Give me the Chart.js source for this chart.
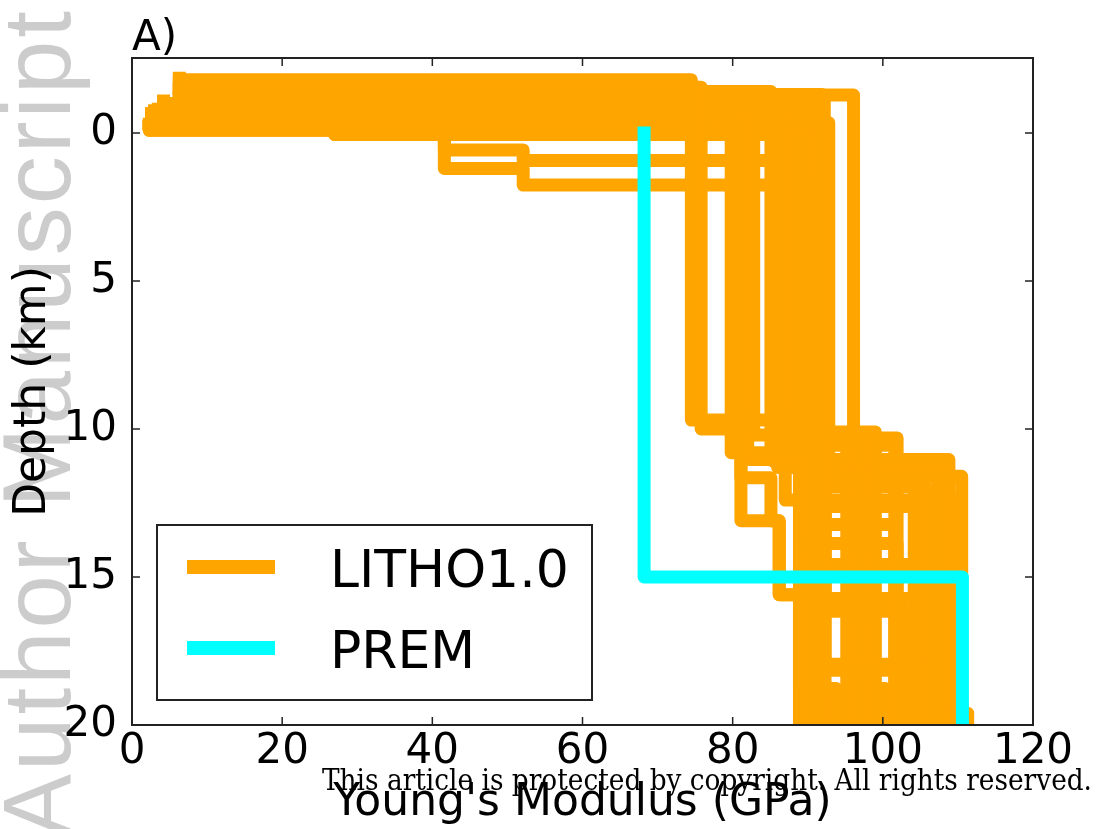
<!DOCTYPE html>
<html>
<head>
<meta charset="utf-8">
<title>Young's Modulus vs Depth</title>
<script src="https://cdn.jsdelivr.net/npm/chart.js@4.4.1/dist/chart.umd.min.js"></script>
<style>
  html, body { margin: 0; padding: 0; background: #ffffff; }
  #wrap { position: relative; width: 1100px; height: 829px; overflow: hidden; }
  canvas { display: block; }
</style>
</head>
<body>
<div id="wrap"><canvas id="chart" width="1100" height="829"></canvas></div>
<script>
// ---------------- data ----------------
const xTickValues = [0, 20, 40, 60, 80, 100, 120];
const yTickValues = [0, 5, 10, 15, 20];
const seriesNames = ['LITHO1.0', 'PREM'];
const seriesColors = ['#ffa500', '#00ffff'];

// PREM crust: layer moduli (GPa) and layer boundaries (km)
const premModulus = [68.2, 110.6];
const premBounds = [0, 15, 20];

// LITHO1.0 profiles: surface depth (km), layer moduli (GPa), layer base depths (km)
const lithoTops = [-1.85, -1.75, -0.66, -0.22, -1.08, -1.6, -0.22, -0.22, -0.22, -1.5,
                   -0.5, -1.45, -1.0, -0.6, -0.85, -0.22, -1.3, -0.4, -0.95, -0.62,
                   -0.45, -0.9, -1.2, -0.8, -0.75, -1.2, -0.3];
const lithoModuli = [
  [6.3, 74.5, 90.6, 104.2],
  [6.3, 75.8, 81.1, 86.2, 88.9],
  [2.6, 79.8, 92.3, 101.6],
  [2.3, 81.1, 85.1, 86.2, 88.9],
  [4.2, 82.8, 88.9, 101.9],
  [6.3, 85.1, 90.6, 107.3],
  [2.3, 27.0, 86.7, 92.3, 103.0],
  [2.3, 27.0, 41.6, 52.1, 88.3, 90.6, 106.6],
  [2.3, 27.0, 41.6, 52.1, 90.3, 92.3, 105.0],
  [6.3, 91.9, 99.0],
  [2.6, 92.8, 110.5],
  [6.3, 96.1, 101.9, 111.3],
  [4.2, 89.5, 95.2],
  [2.6, 87.5, 96.6],
  [4.2, 85.5, 104.2],
  [2.3, 86.0, 107.3],
  [6.3, 82.0, 108.8],
  [2.6, 87.0, 110.0],
  [4.2, 90.8, 105.7],
  [2.6, 85.8, 92.0, 105.7],
  [2.6, 88.0, 88.9, 93.8],
  [4.2, 91.0, 101.6],
  [6.3, 92.2, 97.9],
  [3.5, 89.2, 97.5, 100.3],
  [3.0, 90.0, 91.3],
  [6.3, 91.5, 92.3],
  [2.3, 89.7]
];
const lithoBases = [
  [-1.8, 9.7, 12.62, 20],
  [-1.55, 10.0, 13.1, 15.6, 20],
  [-0.55, 10.8, 13.23, 20],
  [-0.15, 11.65, 13.1, 15.6, 20],
  [-1.0, 10.2, 13.87, 20],
  [-1.4, 10.6, 15.73, 20],
  [-0.1, 0.05, 10.5, 16.16, 20],
  [-0.1, 0.05, 0.57, 0.93, 10.3, 17.95, 20],
  [-0.1, 0.05, 1.2, 1.76, 10.4, 18.15, 20],
  [-1.3, 10.1, 20],
  [-0.35, 11.6, 20],
  [-1.28, 10.3, 19.6, 20],
  [-0.85, 10.5, 20],
  [-0.45, 10.25, 20],
  [-0.7, 11.1, 20],
  [-0.1, 11.3, 20],
  [-1.15, 11.03, 20],
  [-0.25, 12.4, 20],
  [-0.78, 11.95, 20],
  [-0.5, 10.5, 14.58, 20],
  [-0.3, 10.1, 18.77, 20],
  [-0.65, 10.55, 20],
  [-1.1, 10.15, 20],
  [-0.62, 10.45, 18.77, 20],
  [-0.6, 10.35, 20],
  [-1.05, 10.45, 20],
  [-0.12, 20]
];

// ---------------- build step profiles ----------------
function stepPoints(top, moduli, bases) {
  const pts = [];
  let d = top;
  moduli.forEach((e, i) => {
    pts.push({ x: e, y: d });
    pts.push({ x: e, y: bases[i] });
    d = bases[i];
  });
  return pts;
}

const lineStyle = {
  showLine: true, pointRadius: 0, pointHoverRadius: 0, borderWidth: 13,
  borderCapStyle: 'square', borderJoinStyle: 'round', fill: false, tension: 0, clip: 0
};

const datasets = [];
datasets.push(Object.assign({
  label: seriesNames[1],
  data: stepPoints(premBounds[0], premModulus, premBounds.slice(1)),
  borderColor: seriesColors[1], backgroundColor: seriesColors[1], order: 0
}, lineStyle));
lithoTops.forEach((t, i) => {
  datasets.push(Object.assign({
    label: seriesNames[0],
    data: stepPoints(t, lithoModuli[i], lithoBases[i]),
    borderColor: seriesColors[0], backgroundColor: seriesColors[0], order: 1
  }, lineStyle));
});

// ---------------- plugins ----------------
const watermark = {
  id: 'watermark',
  beforeDraw(chart) {
    const ctx = chart.ctx;
    ctx.save();
    ctx.fillStyle = '#ffffff';
    ctx.fillRect(0, 0, chart.width, chart.height);
    ctx.translate(70, 838);
    ctx.rotate(-Math.PI / 2);
    ctx.font = '96px "Liberation Sans", Arial, sans-serif';
    if ('letterSpacing' in ctx) ctx.letterSpacing = '3px';
    ctx.fillStyle = '#cccccc';
    ctx.textBaseline = 'alphabetic';
    ctx.textAlign = 'left';
    ctx.fillText('Author Manuscript', 0, 0);
    ctx.restore();
  }
};

const frameAndTicks = {
  id: 'frameAndTicks',
  afterDatasetsDraw(chart) {
    const ctx = chart.ctx;
    const a = chart.chartArea;
    const xs = chart.scales.x, ys = chart.scales.y;
    ctx.save();
    ctx.strokeStyle = '#222222';
    ctx.lineWidth = 1.5;
    ctx.beginPath();
    xTickValues.forEach(v => {
      const px = xs.getPixelForValue(v);
      ctx.moveTo(px, a.bottom); ctx.lineTo(px, a.bottom - 8);
      ctx.moveTo(px, a.top); ctx.lineTo(px, a.top + 8);
    });
    yTickValues.forEach(v => {
      const py = ys.getPixelForValue(v);
      ctx.moveTo(a.left, py); ctx.lineTo(a.left + 8, py);
      ctx.moveTo(a.right, py); ctx.lineTo(a.right - 8, py);
    });
    ctx.stroke();
    ctx.lineWidth = 2;
    ctx.strokeRect(a.left, a.top, a.right - a.left, a.bottom - a.top);
    ctx.restore();
  },
  afterDraw(chart) {
    const ctx = chart.ctx;
    ctx.save();
    // legend
    ctx.fillStyle = '#ffffff';
    ctx.fillRect(157, 525, 435, 175);
    ctx.strokeStyle = '#222222';
    ctx.lineWidth = 2;
    ctx.strokeRect(157, 525, 435, 175);
    const rows = [567, 648];
    ctx.lineCap = 'butt';
    ctx.lineWidth = 14;
    ctx.font = '52px "DejaVu Sans"';
    ctx.textBaseline = 'alphabetic';
    ctx.textAlign = 'left';
    seriesNames.forEach((name, i) => {
      ctx.strokeStyle = seriesColors[i];
      ctx.beginPath();
      ctx.moveTo(187, rows[i]); ctx.lineTo(275, rows[i]);
      ctx.stroke();
      ctx.fillStyle = '#000000';
      ctx.fillText(name, 330, rows[i] + 20);
    });
    // panel label
    ctx.font = '42px "DejaVu Sans"';
    ctx.fillStyle = '#000000';
    ctx.fillText('A)', 132, 50);
    // copyright notice
    const note = 'This article is protected by copyright. All rights reserved.';
    ctx.font = '30px "DejaVu Serif", "Liberation Serif", serif';
    const w = ctx.measureText(note).width;
    ctx.translate(322, 790);
    ctx.scale(770 / w, 1);
    ctx.fillText(note, 0, 0);
    ctx.restore();
  }
};

// ---------------- chart ----------------
new Chart(document.getElementById('chart').getContext('2d'), {
  type: 'scatter',
  data: { datasets },
  options: {
    responsive: false,
    animation: false,
    devicePixelRatio: 1,
    layout: { padding: { top: 58, right: 67, left: 0, bottom: 0 } },
    plugins: { legend: { display: false }, tooltip: { enabled: false } },
    events: [],
    scales: {
      x: {
        type: 'linear', position: 'bottom', min: 0, max: 120,
        afterBuildTicks: s => { s.ticks = xTickValues.map(v => ({ value: v })); },
        afterFit: s => { s.height = 104; },
        grid: { display: false, drawTicks: false },
        border: { display: false },
        ticks: {
          font: { family: 'DejaVu Sans', size: 42, lineHeight: 1.2 }, color: '#000000',
          padding: 2, maxRotation: 0, autoSkip: false, callback: v => String(v)
        },
        title: {
          display: true, text: "Young's Modulus (GPa)", color: '#000000',
          font: { family: 'DejaVu Sans', size: 44, lineHeight: 1 },
          padding: { top: 0, bottom: 3 }
        }
      },
      y: {
        type: 'linear', position: 'left', reverse: true, min: -2.534, max: 20,
        afterBuildTicks: s => { s.ticks = yTickValues.map(v => ({ value: v })); },
        afterFit: s => { s.width = 132; },
        grid: { display: false, drawTicks: false },
        border: { display: false },
        ticks: {
          font: { family: 'DejaVu Sans', size: 42, lineHeight: 1.2 }, color: '#000000',
          padding: 15, autoSkip: false, callback: v => String(v)
        },
        title: {
          display: true, text: 'Depth (km)', color: '#000000',
          font: { family: 'DejaVu Sans', size: 44, lineHeight: 1 },
          padding: { top: 11.5, bottom: 0 }
        }
      }
    }
  },
  plugins: [watermark, frameAndTicks]
});
</script>
</body>
</html>
